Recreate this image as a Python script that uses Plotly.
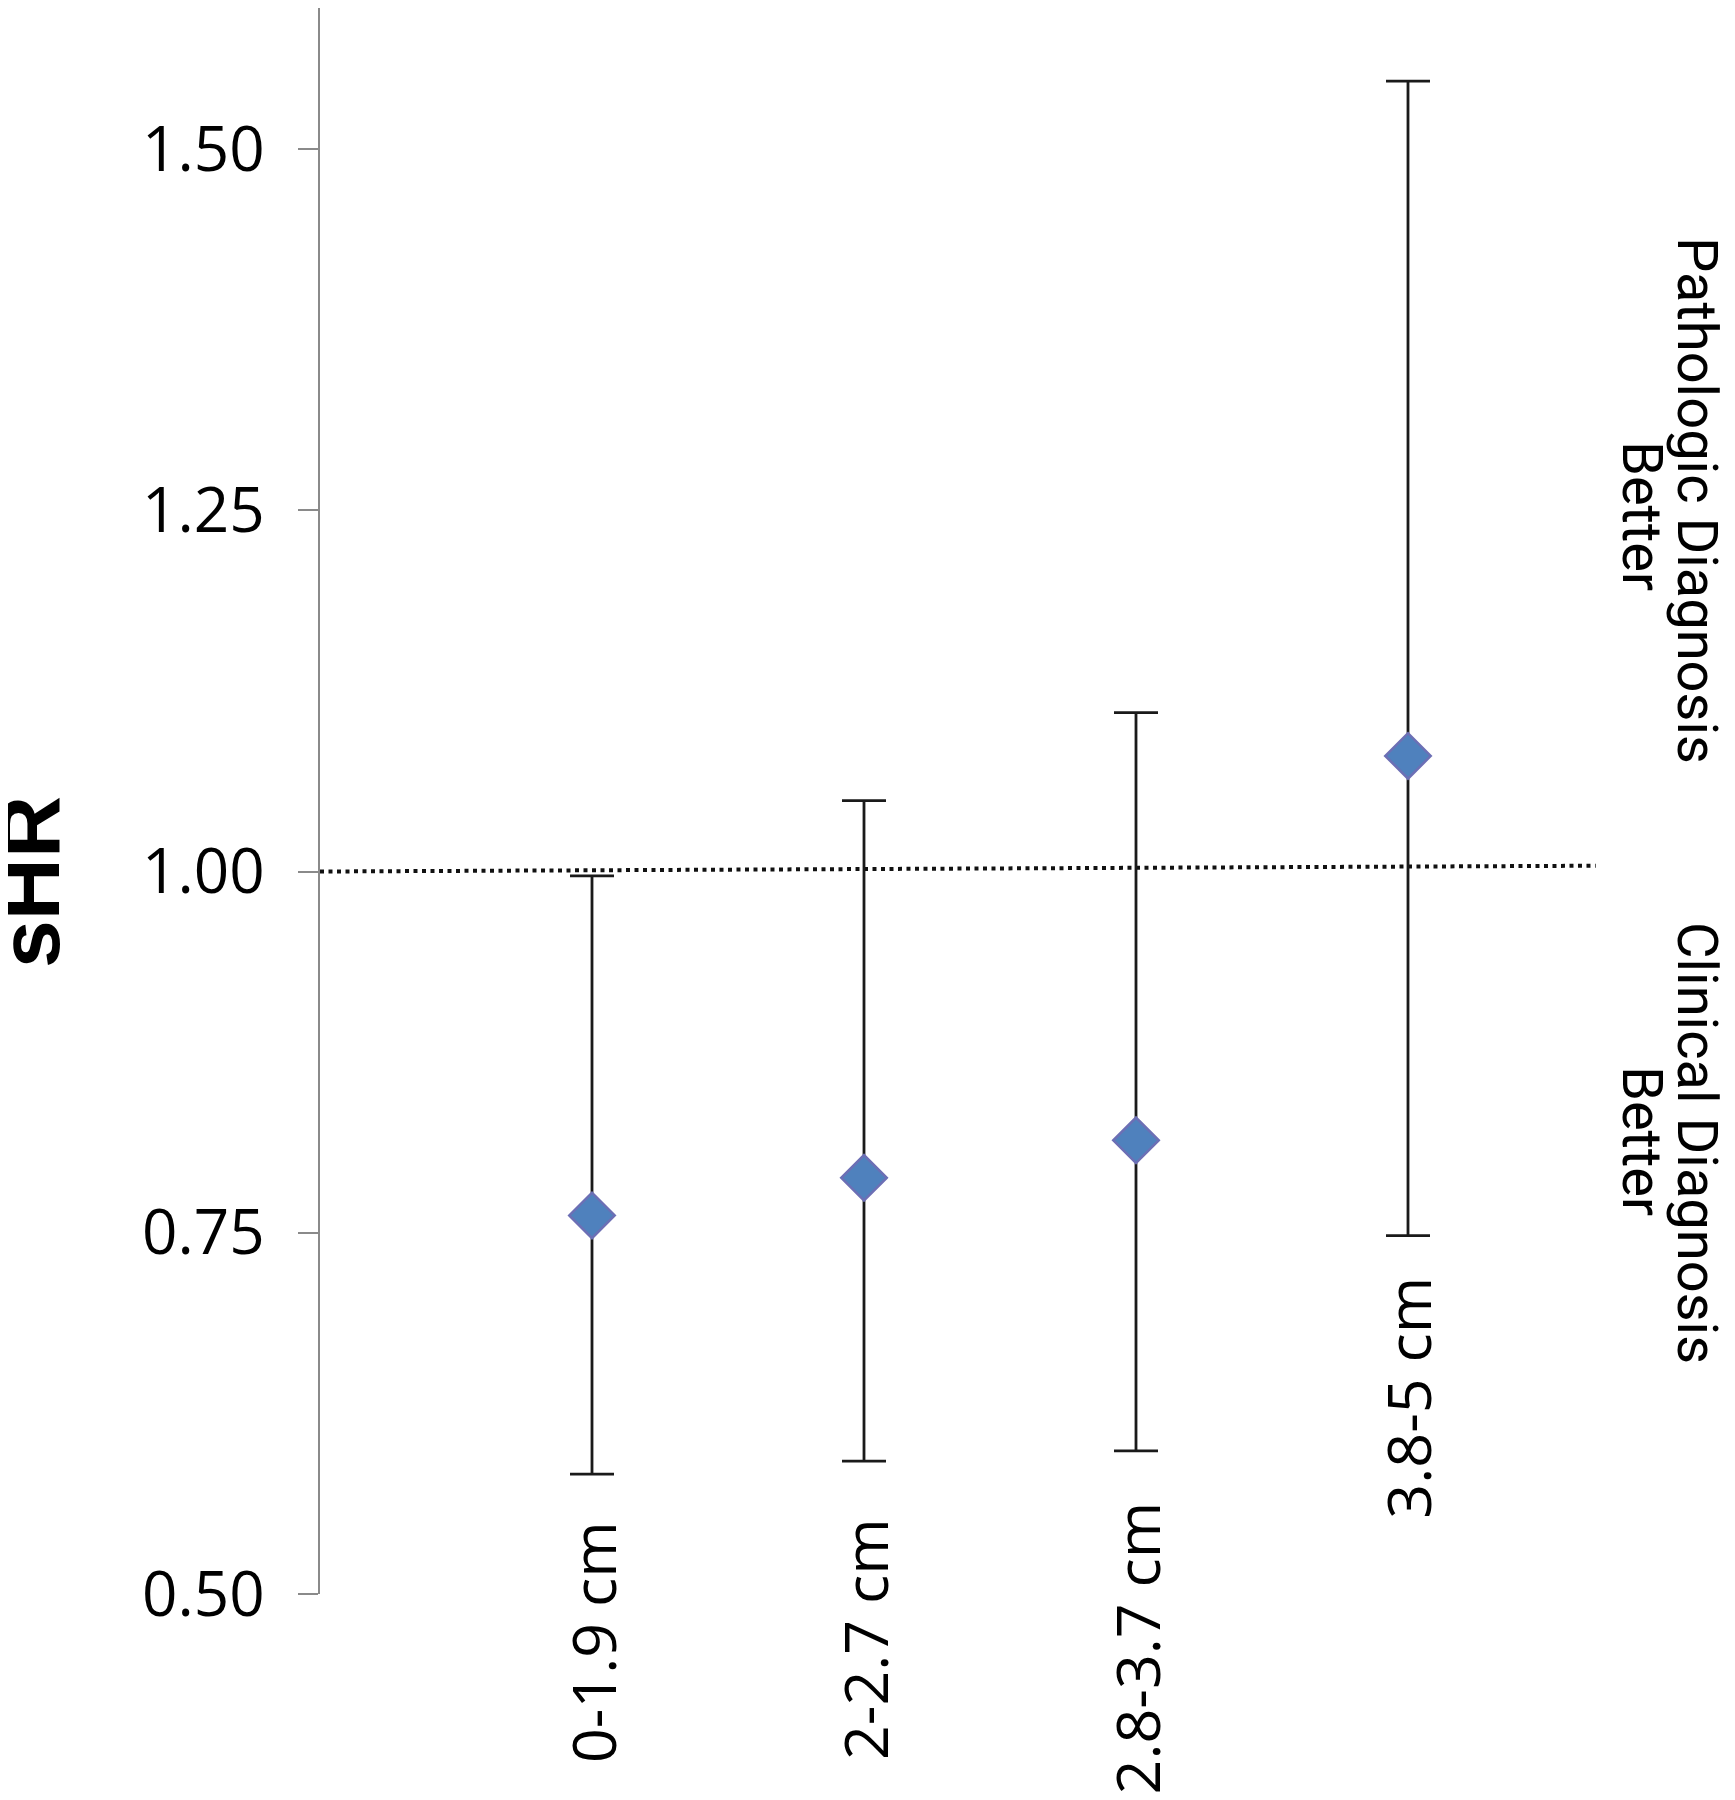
import plotly.graph_objects as go

# ---- data ----
categories = ["0-1.9 cm", "2-2.7 cm", "2.8-3.7 cm", "3.8-5 cm"]
x_pos = [1, 2, 3, 4]
shr = [0.762, 0.788, 0.814, 1.080]
ci_low = [0.583, 0.592, 0.599, 0.748]
ci_high = [0.997, 1.049, 1.110, 1.547]
y_ticks = [0.50, 0.75, 1.00, 1.25, 1.50]
ref_x = [0, 4.69]
ref_y = [1.0, 1.004]
side_top = ["Pathologic Diagnosis", "Better"]
side_bottom = ["Clinical Diagnosis", "Better"]

# label gap (px) below each lower whisker, as laid out in the reference
label_gap = [45, 55, 49, 39]

BODY = 8  # default page margin around the plot div
W, H = 1735 - 2 * BODY, 1800 - 2 * BODY
ML, MT = 312, 0
PW = 1360
PH = 1594 - BODY - MT
MR = W - ML - PW
MB = H - MT - PH


def px_x(page_x):
    return (page_x - BODY - ML) / PW


def px_y(page_y):
    return (BODY + MT + PH - page_y) / PH


fig = go.Figure()

fig.add_trace(go.Scatter(
    x=ref_x, y=ref_y, mode="lines",
    line=dict(color="#111111", width=4, dash="4px,4.5px"),
    hoverinfo="skip", showlegend=False,
))

fig.add_trace(go.Scatter(
    x=x_pos, y=shr, mode="markers",
    marker=dict(symbol="diamond", size=35, color="#4F81BD",
                line=dict(color="#6C6FB5", width=2.5)),
    error_y=dict(type="data", symmetric=False,
                 array=[h - v for h, v in zip(ci_high, shr)],
                 arrayminus=[v - l for v, l in zip(shr, ci_low)],
                 color="#1a1a1a", thickness=2.8, width=22),
    showlegend=False,
))

annotations = []
for xc, lo, lab, gap in zip(x_pos, ci_low, categories, label_gap):
    annotations.append(dict(
        x=xc, y=lo, xref="x", yref="y", text=lab, showarrow=False,
        textangle=-90, xanchor="center", yanchor="top", yshift=-gap,
        font=dict(family="Open Sans", size=61, color="black"),
    ))

annotations.append(dict(
    x=px_x(29), y=px_y(882), xref="paper", yref="paper", text="<b>sHR</b>",
    showarrow=False, textangle=-90, xanchor="center", yanchor="middle",
    font=dict(family="Liberation Sans", size=86, color="black"),
))

side_font = dict(family="Roboto", size=56, color="black")
annotations += [
    dict(x=px_x(1697), y=px_y(500), xref="paper", yref="paper", text=side_top[0],
         showarrow=False, textangle=90, xanchor="center", yanchor="middle", font=side_font),
    dict(x=px_x(1642), y=px_y(516), xref="paper", yref="paper", text=side_top[1],
         showarrow=False, textangle=90, xanchor="center", yanchor="middle", font=side_font),
    dict(x=px_x(1697), y=px_y(1143), xref="paper", yref="paper", text=side_bottom[0],
         showarrow=False, textangle=90, xanchor="center", yanchor="middle", font=side_font),
    dict(x=px_x(1642), y=px_y(1141), xref="paper", yref="paper", text=side_bottom[1],
         showarrow=False, textangle=90, xanchor="center", yanchor="middle", font=side_font),
]

fig.update_layout(
    width=W, height=H,
    margin=dict(l=ML, r=MR, t=MT, b=MB),
    paper_bgcolor="white", plot_bgcolor="white",
    annotations=annotations,
    xaxis=dict(range=[0, 5], showgrid=False, zeroline=False, showline=False,
               showticklabels=False, ticks=""),
    yaxis=dict(range=[0.5, 1.5976], tickvals=y_ticks,
               ticktext=[f"{v:.2f}" for v in y_ticks],
               showgrid=False, zeroline=False, showline=True,
               linecolor="#8a8a8a", linewidth=2,
               ticks="outside", ticklen=20, tickwidth=2, tickcolor="#8a8a8a",
               ticklabelstandoff=21,
               tickfont=dict(family="Open Sans", size=62, color="black")),
)

fig.write_html("out.html")
